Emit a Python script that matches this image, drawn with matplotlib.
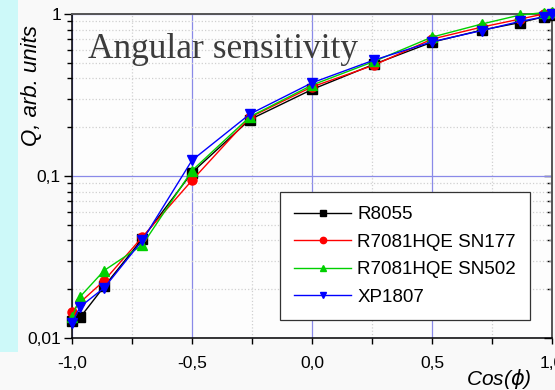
import numpy as np
import matplotlib
matplotlib.use("Agg")
import matplotlib.pyplot as plt
from matplotlib.patches import Rectangle
from matplotlib.ticker import FixedLocator, FixedFormatter

# cos of the angle, 0..180 deg in 15 deg steps
cos_phi = [-1.0, -0.966, -0.866, -0.707, -0.5, -0.259, 0.0,
           0.259, 0.5, 0.707, 0.866, 0.966, 1.0]

q_r8055 = [0.0128, 0.0134, 0.0208, 0.041, 0.105, 0.223, 0.342,
           0.49, 0.67, 0.795, 0.885, 0.96, 0.98]
q_sn177 = [0.0144, 0.0166, 0.0226, 0.042, 0.094, 0.23, 0.355,
           0.484, 0.70, 0.83, 0.93, 1.0, 1.01]
q_sn502 = [0.0134, 0.018, 0.0261, 0.0375, 0.108, 0.232, 0.364,
           0.51, 0.72, 0.867, 0.985, 1.02, 1.03]
q_xp1807 = [0.0123, 0.0156, 0.0204, 0.040, 0.125, 0.241, 0.376,
            0.52, 0.674, 0.79, 0.9, 0.96, 1.0]

labels = ["R8055", "R7081HQE SN177", "R7081HQE SN502", "XP1807"]
colors = ["black", "#ff0000", "#00d000", "#0000ff"]
markers = ["s", "o", "^", "v"]

xticks = [-1.0, -0.5, 0.0, 0.5, 1.0]
xticklabels = ["-1,0", "-0,5", "0,0", "0,5", "1,0"]
yticks = [0.01, 0.1, 1.0]
yticklabels = ["0,01", "0,1", "1"]

plt.rcParams['font.family'] = ['Liberation Sans', 'DejaVu Sans']

fig = plt.figure(figsize=(5.55, 3.9), dpi=100, facecolor="#f9f9f9")
# light cyan strip on the left edge
fig.patches.append(Rectangle((0, 0.097), 18 / 555, 0.903, transform=fig.transFigure,
                             facecolor="#cdf9f9", edgecolor="none", zorder=0))

ax = fig.add_axes([72 / 555, 52 / 390, 480 / 555, 324 / 390])
ax.set_facecolor("#fdfdfd")
ax.set_yscale("log")
ax.set_xlim(-1.0, 1.0)
ax.set_ylim(0.01, 1.0)

ax.xaxis.set_major_locator(FixedLocator(xticks))
ax.xaxis.set_major_formatter(FixedFormatter(xticklabels))
ax.xaxis.set_minor_locator(FixedLocator([-0.75, -0.25, 0.25, 0.75]))
ax.yaxis.set_major_locator(FixedLocator(yticks))
ax.yaxis.set_major_formatter(FixedFormatter(yticklabels))
minor_y = [m * d for d in (0.01, 0.1) for m in range(2, 10)]
ax.yaxis.set_minor_locator(FixedLocator(minor_y))
ax.yaxis.set_minor_formatter(FixedFormatter([""] * len(minor_y)))

ax.grid(which="major", color="#8a8ae8", linestyle="-", linewidth=0.9)
ax.grid(which="minor", color="#d0d0d0", linestyle=":", linewidth=0.9)
ax.set_axisbelow(True)

ax.tick_params(axis="both", which="major", labelsize=12.5, colors="black")
ax.tick_params(axis="y", which="major", direction="out", length=6, width=1, pad=2)
ax.tick_params(axis="y", which="minor", direction="out", length=3.5, width=1)
ax.tick_params(axis="x", which="major", direction="out", length=4, width=1, pad=9)
ax.tick_params(axis="x", which="minor", direction="out", length=4, width=1)

for side in ["left", "bottom"]:
    ax.spines[side].set_color("black")
    ax.spines[side].set_linewidth(1.1)
for side in ["top", "right"]:
    ax.spines[side].set_color("#555555")
    ax.spines[side].set_linewidth(1.4)

# inward ticks on the right edge
rax = ax.secondary_yaxis("right")
rax.yaxis.set_major_locator(FixedLocator(yticks))
rax.yaxis.set_minor_locator(FixedLocator(minor_y))
rax.tick_params(which="major", direction="in", length=6, width=1, labelright=False)
rax.tick_params(which="minor", direction="in", length=3.5, width=1, labelright=False)
rax.spines["right"].set_visible(False)

series = [q_r8055, q_sn177, q_sn502, q_xp1807]
for q, lab, c, m in zip(series, labels, colors, markers):
    ax.plot(cos_phi, q, color=c, marker=m, markersize=6.5, linewidth=1.0,
            label=lab, clip_on=False, zorder=3)

leg = ax.legend(loc="lower right", bbox_to_anchor=(0.954, 0.056), borderaxespad=0,
                fontsize=13.5, handlelength=3.05, handletextpad=0.3, labelspacing=0.55,
                markerscale=0.7, fancybox=False, framealpha=1, edgecolor="#333333",
                borderpad=0.75)
leg.get_frame().set_linewidth(0.9)

ax.set_ylabel("Q, arb. units", fontsize=16, style="italic")
ax.yaxis.set_label_coords(-0.063, 0.78)
ax.set_xlabel("Cos($\\phi$)", fontsize=15, style="italic")
ax.xaxis.set_label_coords(0.89, -0.09)

fig.text(88 / 555, 1 - 58 / 390, "Angular sensitivity", fontsize=25.5,
         family="Liberation Serif", color="#3c3c3c", va="baseline", ha="left")

fig.savefig("out.png", dpi=100, facecolor=fig.get_facecolor())
